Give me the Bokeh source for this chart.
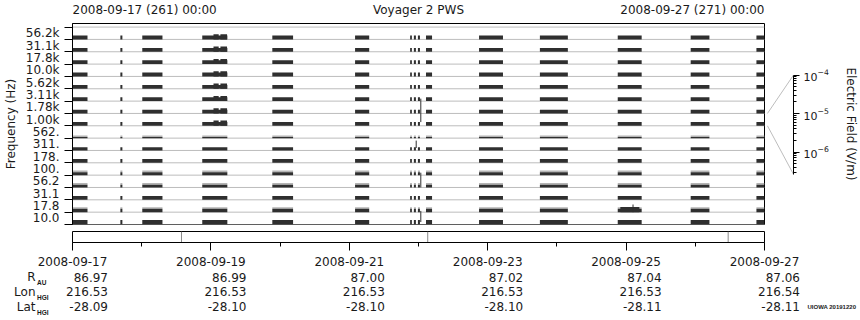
import math
import pandas as pd
from bokeh.plotting import figure
from bokeh.layouts import column, row
from bokeh.models import (Range1d, FixedTicker, ColumnDataSource, DatetimeTickFormatter,
                          LinearScale)
from bokeh.core.properties import value
from bokeh.embed import file_html
from bokeh.resources import INLINE

# ---------------- data ----------------
start = pd.Timestamp("2008-09-17 00:00")
end = pd.Timestamp("2008-09-27 00:00")

channel_labels = ["10.0", "17.8", "31.1", "56.2", "100.", "178.", "311.", "562.",
                  "1.00k", "1.78k", "3.11k", "5.62k", "10.0k", "17.8k", "31.1k", "56.2k"]
# background level of each channel (fraction of its band), dark trace
dark_level = [0.37, 0.27, 0.31, 0.22, 0.24, 0.31, 0.26, 0.10,
              0.31, 0.31, 0.31, 0.31, 0.31, 0.31, 0.31, 0.31]
# faint upper trace of each channel (0 = none)
gray_level = [0.0, 0.40, 0.0, 0.37, 0.37, 0.0, 0.0, 0.22,
              0.0, 0.0, 0.0, 0.0, 0.0, 0.0, 0.0, 0.0]

# data segments, hours after 2008-09-17 00:00
seg_start_h = [0.0, 16.6, 24.2, 45.0, 69.3, 98.0, 117.1, 118.4, 119.8, 122.6,
               141.0, 162.1, 189.1, 214.4, 237.2]
seg_end_h = [5.2, 17.3, 31.2, 53.7, 76.5, 102.9, 117.7, 119.1, 120.5, 124.7,
             149.3, 171.8, 197.4, 220.9, 240.0]

# enhanced intervals
burst_start_h = [48.9, 51.3, 190.0]
burst_end_h = [50.7, 53.6, 196.6]
burst_ch_lo = [8, 8, 1]
burst_ch_hi = [15, 15, 1]
burst_level = [0.42, 0.42, 0.42]

# short impulsive spikes (hour, channel-units low, high)
spike_h = [120.8, 119.2, 120.8, 120.8, 194.4]
spike_lo = [8.3, 6.2, 3.0, 0.2, 1.0]
spike_hi = [10.2, 6.8, 4.2, 1.1, 1.62]

# file boundary marks in the lower strip (hours)
mark_h = [37.8, 123.2, 227.4]

tick_days = ["2008-09-17", "2008-09-19", "2008-09-21", "2008-09-23", "2008-09-25", "2008-09-27"]
minor_days = ["2008-09-18", "2008-09-20", "2008-09-22", "2008-09-24", "2008-09-26"]
r_au = ["86.97", "86.99", "87.00", "87.02", "87.04", "87.06"]
lon_hgi = ["216.53", "216.53", "216.53", "216.53", "216.53", "216.54"]
lat_hgi = ["-28.09", "-28.10", "-28.10", "-28.10", "-28.11", "-28.11"]
row_names = ["R", "Lon", "Lat"]
row_subs = ["AU", "HGI", "HGI"]

header_left = "2008-09-17 (261) 00:00"
header_right = "2008-09-27 (271) 00:00"
title = "Voyager 2 PWS"
stamp = "UIOWA 20191220"

# ---------------- styling ----------------
FONT = "DejaVu Sans"
SMALL = "Liberation Sans"
INK = "#1a1a1a"
BAR = "#2f2f2f"
HALO = "#b4b4b4"
RULE = "#bdbdbd"

W = 860
LEFT, RIGHT = 72, 96
FRAME_W = W - LEFT - RIGHT
Y_TOP = 16.29
CB_LO_LOG, CB_HI_LOG = -7.883, -2.662
CB_BOUND_LO = 10 ** -6.58


def at(h):
    return start + pd.to_timedelta(h, unit="h")


def ms(ts):
    return ts.value / 1e6


MS_PER_PX = (ms(end) - ms(start)) / FRAME_W


def bare(fig):
    fig.xgrid.visible = False
    fig.ygrid.visible = False
    fig.background_fill_color = "white"
    fig.border_fill_color = "white"
    return fig


x_range = Range1d(start, end)

# ---------------- header ----------------
hdr = bare(figure(width=W, height=22, x_axis_type="datetime", x_range=x_range,
                  y_range=Range1d(0, 1), x_axis_location=None, y_axis_location=None,
                  toolbar_location=None, output_backend="svg",
                  min_border_left=LEFT, min_border_right=RIGHT, min_border_top=0,
                  min_border_bottom=0))
hdr.outline_line_color = None
htxt = dict(y=0.59, text_baseline="middle", text_font=value(FONT),
            text_font_size="12px", text_color=INK)
hdr.text(x=[start], text=[header_left], text_align="left", **htxt)
hdr.text(x=[end], text=[header_right], text_align="right", **htxt)
hdr.text(x=[start + (end - start) / 2], text=[title], text_align="center", **htxt)

# ---------------- main spectrum panel ----------------
dk = dict(left=[], right=[], bottom=[], top=[])
hl = dict(left=[], right=[], bottom=[], top=[])
for ci in range(len(channel_labels)):
    for s, e in zip(seg_start_h, seg_end_h):
        if gray_level[ci] > dark_level[ci]:
            hl["left"].append(at(s)); hl["right"].append(at(e))
            hl["bottom"].append(ci + dark_level[ci]); hl["top"].append(ci + gray_level[ci])
        dk["left"].append(at(s)); dk["right"].append(at(e))
        dk["bottom"].append(ci); dk["top"].append(ci + dark_level[ci])
for s, e, lo, hi, lv in zip(burst_start_h, burst_end_h, burst_ch_lo, burst_ch_hi, burst_level):
    for ci in range(lo, hi + 1):
        dk["left"].append(at(s)); dk["right"].append(at(e))
        dk["bottom"].append(ci); dk["top"].append(ci + lv)

p = bare(figure(width=LEFT + FRAME_W + 1, height=206, x_axis_type="datetime", x_range=x_range,
                y_range=Range1d(0, Y_TOP), x_axis_location=None,
                toolbar_location=None, output_backend="svg",
                min_border_left=LEFT, min_border_right=1, min_border_top=1,
                min_border_bottom=4))
p.outline_line_color = "black"

n_lines = len(channel_labels) + 1
p.segment(x0=[start] * n_lines, x1=[end] * n_lines, y0=list(range(n_lines)),
          y1=list(range(n_lines)), line_color=RULE, line_width=1)
p.quad(source=ColumnDataSource(hl), left="left", right="right", bottom="bottom", top="top",
       fill_color=HALO, line_color=None)
p.quad(source=ColumnDataSource(dk), left="left", right="right", bottom="bottom", top="top",
       fill_color=BAR, line_color=None)
p.segment(x0=[at(h) for h in spike_h], x1=[at(h) for h in spike_h], y0=spike_lo, y1=spike_hi,
          line_color=BAR, line_width=1)

ya = p.yaxis[0]
ya.ticker = FixedTicker(ticks=[i + 0.5 for i in range(len(channel_labels))],
                        minor_ticks=list(range(n_lines)))
ya.major_label_overrides = {i + 0.5: lab for i, lab in enumerate(channel_labels)}
ya.major_tick_out = 0
ya.major_tick_in = 0
ya.minor_tick_out = 8
ya.minor_tick_in = 0
ya.minor_tick_line_color = "black"
ya.axis_line_color = "black"
ya.major_label_standoff = 5
ya.major_label_text_font = FONT
ya.major_label_text_font_size = "12px"
ya.major_label_text_color = INK
ya.axis_label = "Frequency (Hz)"
ya.axis_label_text_font = FONT
ya.axis_label_text_font_size = "12px"
ya.axis_label_text_font_style = "normal"
ya.axis_label_text_color = INK
ya.axis_label_standoff = 5

# ---------------- colour scale (right) ----------------
cbf = bare(figure(width=W - (LEFT + FRAME_W + 1), height=206,
                  y_axis_type="log", y_range=Range1d(10 ** CB_LO_LOG, 10 ** CB_HI_LOG),
                  x_range=Range1d(0, 1), x_axis_location=None, y_axis_location="right",
                  toolbar_location=None, output_backend="svg",
                  min_border_left=0, min_border_right=RIGHT - 30, min_border_top=1,
                  min_border_bottom=4))
cbf.outline_line_color = None
cbf.extra_y_ranges = {"ch": Range1d(0, Y_TOP)}
cbf.extra_y_scales = {"ch": LinearScale()}
cb_minor = [k * 10.0 ** e for e in (-7, -6, -5) for k in range(2, 10)
            if CB_BOUND_LO <= k * 10.0 ** e <= 1e-4]
cba = cbf.yaxis[0]
cba.ticker = FixedTicker(ticks=[1e-6, 1e-5, 1e-4], minor_ticks=cb_minor)
cba.bounds = (CB_BOUND_LO, 1e-4)
cba.major_tick_out = 6
cba.major_tick_in = 0
cba.minor_tick_out = 3
cba.minor_tick_in = 0
cba.major_label_standoff = 4
cba.axis_line_color = "black"
cba.major_tick_line_color = "black"
cba.minor_tick_line_color = "black"
cba.major_label_text_font = FONT
cba.major_label_text_font_size = "11px"
cba.major_label_text_color = INK
cba.axis_label = "Electric Field (V/m)"
cba.axis_label_text_font = FONT
cba.axis_label_text_font_size = "12px"
cba.axis_label_text_font_style = "normal"
cba.axis_label_text_color = INK
cba.axis_label_standoff = 12


def cb_to_ch(v):
    return (math.log10(v) - CB_LO_LOG) / (CB_HI_LOG - CB_LO_LOG) * Y_TOP


link_ch = channel_labels.index("1.00k")
cbf.segment(x0=[0.07, 0.07], x1=[1.0, 1.0], y0=[link_ch + 1, link_ch],
            y1=[cb_to_ch(1e-4), cb_to_ch(CB_BOUND_LO)], y_range_name="ch",
            line_color=RULE, line_width=1)

# ---------------- time strip ----------------
p2 = bare(figure(width=W, height=42, x_axis_type="datetime", x_range=x_range,
                 y_range=Range1d(0, 1), y_axis_location=None,
                 toolbar_location=None, output_backend="svg",
                 min_border_left=LEFT, min_border_right=RIGHT, min_border_top=3,
                 min_border_bottom=28))
p2.outline_line_color = "black"
p2.segment(x0=[at(h) for h in mark_h], x1=[at(h) for h in mark_h],
           y0=[0] * len(mark_h), y1=[1] * len(mark_h), line_color="#8a8a8a", line_width=1)

xa = p2.xaxis[0]
xa.ticker = FixedTicker(ticks=[ms(pd.Timestamp(d)) for d in tick_days],
                        minor_ticks=[ms(pd.Timestamp(d)) for d in minor_days])
fmt = "%Y-%m-%d"
xa.formatter = DatetimeTickFormatter(days=fmt, months=fmt, years=fmt, hours=fmt,
                                     hourmin=fmt, minutes=fmt, minsec=fmt, seconds=fmt,
                                     milliseconds=fmt, microseconds=fmt)
xa.major_tick_out = 8
xa.major_tick_in = 0
xa.minor_tick_out = 4
xa.minor_tick_in = 0
xa.major_tick_line_color = "black"
xa.minor_tick_line_color = "black"
xa.axis_line_color = "black"
xa.major_label_standoff = 6
xa.major_label_text_font = FONT
xa.major_label_text_font_size = "12px"
xa.major_label_text_color = INK

# ---------------- ephemeris rows ----------------
eph_range = Range1d(ms(start) - LEFT * MS_PER_PX, ms(end) + RIGHT * MS_PER_PX)
ep = bare(figure(width=W, height=50, x_range=eph_range, y_range=Range1d(2.936, -0.454),
                 x_axis_location=None, y_axis_location=None,
                 toolbar_location=None, output_backend="svg",
                 min_border_left=0, min_border_right=0, min_border_top=0, min_border_bottom=0))
ep.outline_line_color = None
tick_ms = [ms(pd.Timestamp(d)) for d in tick_days]
val_x = [t + 35.5 * MS_PER_PX for t in tick_ms]      # right edge of each date label
name_x = ms(start) - 37 * MS_PER_PX
etxt = dict(text_baseline="middle", text_font=value(FONT), text_font_size="12px",
            text_color=INK)
for ri, vals in enumerate([r_au, lon_hgi, lat_hgi]):
    ep.text(x=val_x, y=[ri] * len(val_x), text=vals, text_align="right", **etxt)
ep.text(x=[name_x] * 3, y=[0, 1, 2], text=row_names, text_align="right", **etxt)
ep.text(x=[name_x + 1.5 * MS_PER_PX] * 3, y=[0.37, 1.37, 2.37], text=row_subs,
        text_align="left", text_baseline="middle", text_font=value(SMALL),
        text_font_size="6.5px", text_font_style="bold", text_color=INK)
ep.text(x=[ms(end) + 43 * MS_PER_PX], y=[2], text=[stamp], text_align="left",
        text_baseline="middle", text_font=value(SMALL), text_font_size="6px",
        text_font_style="bold", text_color=INK)

top_block = column(hdr, row(p, cbf), p2)
layout = column(top_block, row(ep))
open("out.html", "w").write(file_html(layout, INLINE))
